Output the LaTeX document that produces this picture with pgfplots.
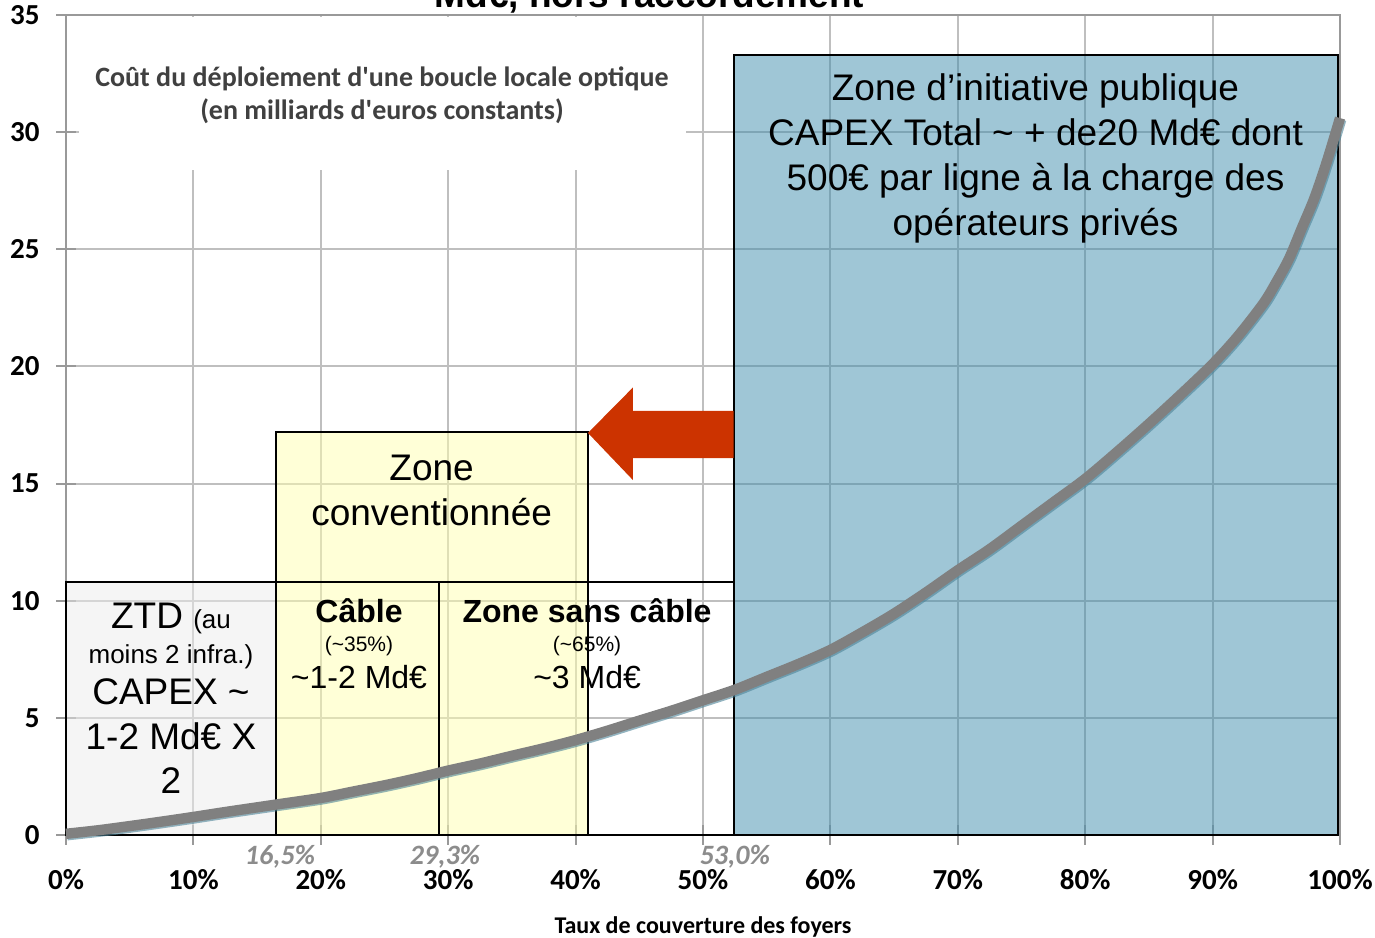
\documentclass[border=0pt]{standalone}
\usepackage{pgfplots}
\pgfplotsset{compat=1.18}
\usepackage{pgfplotstable}
\usepackage{fontspec}
\setmainfont{Liberation Sans}
\newfontfamily\calibri{Carlito}
\definecolor{bluebox}{RGB}{63,141,173}
\definecolor{yellowbox}{RGB}{255,255,175}
\definecolor{ztdbox}{RGB}{235,235,235}
\definecolor{arrowred}{RGB}{204,51,0}
\definecolor{curvegray}{RGB}{128,128,128}
\definecolor{shadowcol}{RGB}{75,130,150}
\definecolor{titlegray}{RGB}{64,64,64}
\definecolor{pctgray}{RGB}{140,140,140}
\pgfplotstableread{
x y
0 0.05
2.5 0.2
5 0.38
7.5 0.57
10 0.77
12.5 0.98
15 1.18
16.5 1.3
20 1.58
22.5 1.85
25 2.12
27.5 2.42
30 2.75
32.5 3.05
35 3.38
37.5 3.7
40 4.05
42.5 4.45
45 4.88
47.5 5.3
50 5.75
52.5 6.2
55 6.75
57.5 7.3
60 7.9
62.5 8.65
65 9.45
67.5 10.35
70 11.3
72.5 12.2
75 13.2
77.5 14.2
80 15.2
82.5 16.35
85 17.55
87.5 18.8
90 20.1
92 21.3
94 22.7
95 23.6
96 24.6
97 25.9
98 27.2
99 28.8
100 30.6
}\costdata
\begin{document}
\begin{tikzpicture}
\begin{axis}[name=ax, at={(0,0)}, anchor=south west,
  width=637pt, height=410pt, scale only axis,
  xmin=0, xmax=100, ymin=0, ymax=35, clip=false,
  xtick={0,10,20,30,40,50,60,70,80,90,100},
  xticklabels={0\%,10\%,20\%,30\%,40\%,50\%,60\%,70\%,80\%,90\%,100\%},
  ytick={0,5,10,15,20,25,30,35},
  grid=major, major grid style={draw=black!25, line width=1pt},
  axis line style={draw=black!40, line width=1pt},
  tick style={draw=black!40, line width=1pt},
  major tick length=10pt, tick align=center, tick pos=left,
  xticklabel style={font=\calibri\bfseries\fontsize{14.5}{16}\selectfont, anchor=base, yshift=-22.5pt},
  yticklabel style={font=\calibri\bfseries\fontsize{14.5}{16}\selectfont, anchor=east, inner sep=0pt, xshift=-8pt},
  /pgf/number format/assume math mode=true,
]
% fills
\fill[ztdbox, fill opacity=0.5] (axis cs:0,0) rectangle (axis cs:16.5,10.8);
\fill[yellowbox, fill opacity=0.5] (axis cs:16.5,0) rectangle (axis cs:41,17.2);
\fill[bluebox, fill opacity=0.5] (axis cs:52.4,0) rectangle (axis cs:99.85,33.3);
\fill[white] (axis cs:1.0,34.9) rectangle (axis cs:48.7,28.4);
% borders
\draw[black, line width=1pt] (axis cs:0,0) rectangle (axis cs:16.5,10.8);
\draw[black, line width=1pt] (axis cs:16.5,0) rectangle (axis cs:41,17.2);
\draw[black, line width=1pt] (axis cs:16.5,0) rectangle (axis cs:29.3,10.8);
\draw[black, line width=1pt] (axis cs:29.3,0) rectangle (axis cs:52.4,10.8);
\draw[black, line width=1pt] (axis cs:52.4,0) rectangle (axis cs:99.85,33.3);
% arrow
\fill[arrowred] (axis cs:40.97,17.16) -- (axis cs:44.5,19.1) -- (axis cs:44.5,18.1) -- (axis cs:52.4,18.1) -- (axis cs:52.4,16.09) -- (axis cs:44.5,16.09) -- (axis cs:44.5,15.15) -- cycle;
% curve
\addplot[shadowcol, opacity=0.6, line width=5.2pt, smooth, xshift=0.6pt, yshift=-0.7pt] table[x=x,y=y] {\costdata};
\addplot[curvegray, line width=5.2pt, smooth] table[x=x,y=y] {\costdata};
% texts
\node[anchor=base, font=\calibri\bfseries\fontsize{14}{16}\selectfont, text=titlegray] at (axis cs:24.8,31.93) {Coût du déploiement d'une boucle locale optique};
\node[anchor=base, font=\calibri\bfseries\fontsize{14}{16}\selectfont, text=titlegray] at (axis cs:24.8,30.56) {(en milliards d'euros constants)};
\node[anchor=base, font=\bfseries\fontsize{18.5}{22}\selectfont] at (axis cs:45.8,35.34) {Md€, hors raccordement};
\begin{scope}[every node/.style={anchor=base, font=\fontsize{18.5}{22}\selectfont, inner sep=0pt}]
\node at (axis cs:76.1,31.33) {Zone d’initiative publique};
\node at (axis cs:76.1,29.41) {CAPEX Total \textasciitilde{} + de20 Md€ dont};
\node at (axis cs:76.1,27.49) {500€ par ligne à la charge des};
\node at (axis cs:76.1,25.57) {opérateurs privés};
\node at (axis cs:28.7,15.15) {Zone};
\node at (axis cs:28.7,13.23) {conventionnée};
\node at (axis cs:8.24,8.83) {ZTD {\fontsize{13}{15}\selectfont (au}};
\node[font=\fontsize{13}{15}\selectfont] at (axis cs:8.24,7.30) {moins 2 infra.)};
\node at (axis cs:8.24,5.55) {CAPEX \textasciitilde};
\node at (axis cs:8.24,3.63) {1-2 Md€ X};
\node at (axis cs:8.24,1.75) {2};
\node[font=\bfseries\fontsize{16}{19}\selectfont] at (axis cs:23.0,9.05) {Câble};
\node[font=\fontsize{10.5}{12}\selectfont] at (axis cs:23.0,7.85) {(\textasciitilde35\%)};
\node[font=\fontsize{16}{19}\selectfont] at (axis cs:23.0,6.27) {\textasciitilde1-2 Md€};
\node[font=\bfseries\fontsize{16}{19}\selectfont] at (axis cs:40.9,9.05) {Zone sans câble};
\node[font=\fontsize{10.5}{12}\selectfont] at (axis cs:40.9,7.85) {(\textasciitilde65\%)};
\node[font=\fontsize{16}{19}\selectfont] at (axis cs:40.9,6.27) {\textasciitilde3 Md€};
\end{scope}
\begin{scope}[every node/.style={anchor=base, font=\calibri\bfseries\itshape\fontsize{14}{16}\selectfont, text=pctgray, inner sep=0pt}]
\node at (axis cs:16.8,-1.25) {16,5\%};
\node at (axis cs:29.75,-1.25) {29,3\%};
\node at (axis cs:52.5,-1.25) {53,0\%};
\end{scope}
\node[anchor=base, inner sep=0pt, font=\calibri\bfseries\fontsize{12}{14}\selectfont] at (axis cs:50,-4.2) {Taux de couverture des foyers};
\end{axis}
\pgfresetboundingbox
\useasboundingbox ([xshift=-33pt,yshift=-51.5pt]ax.south west) rectangle ([xshift=17.5pt,yshift=7.5pt]ax.north east);
\end{tikzpicture}
\end{document}
